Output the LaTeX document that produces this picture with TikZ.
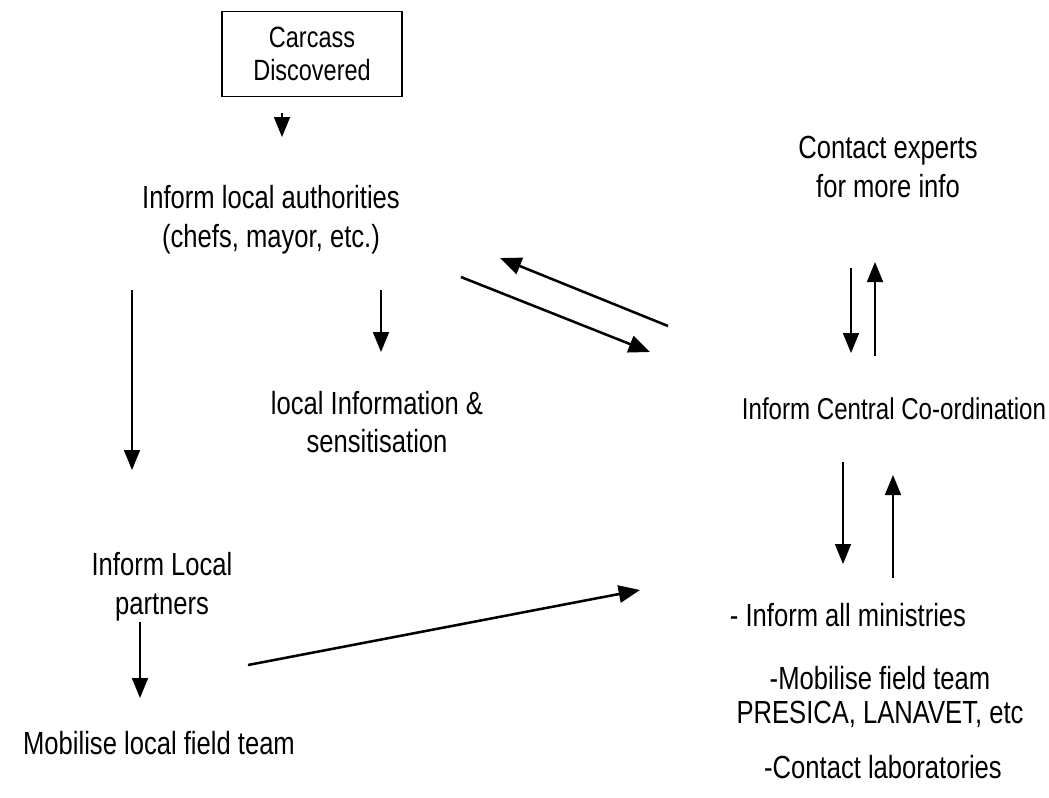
\documentclass[tikz,border=0pt]{standalone}
\usepackage{fontspec}
\setmainfont{Liberation Sans}[FakeStretch=0.8]
\usetikzlibrary{arrows.meta}
\begin{document}
\begin{tikzpicture}[x=0.75pt,y=-0.75pt,
  lbl/.style={align=center,inner sep=0pt,font=\fontsize{24pt}{29pt}\selectfont},
  cbox/.style={lbl,draw,line width=1.1pt,minimum width=135pt,minimum height=64pt,font=\fontsize{22pt}{25pt}\selectfont},
  arr/.style={line width=1.3pt,-{Triangle[length=15pt,width=12pt]}},
  darr/.style={line width=1.9pt,-{Triangle[length=16pt,width=13pt]}}]
\useasboundingbox[fill=white] (0,0) rectangle (1049,797);
% nodes
\node[cbox] (carcass) at (312,54) {Carcass\\Discovered};
\node[lbl] (auth) at (271,220) {Inform local authorities\\(chefs, mayor, etc.)};
\node[lbl] (sens) at (377,422) {local Information \&\\sensitisation};
\node[lbl] (partners) at (162,587) {Inform Local\\partners};
\node[lbl] (mobloc) at (159,743) {Mobilise local field team};
\node[lbl] (experts) at (888,167) {Contact experts\\for more info};
\node[lbl,font=\fontsize{22.6pt}{29pt}\selectfont] (central) at (894,409) {Inform Central Co-ordination};
\node[lbl] (ministries) at (848,615) {- Inform all ministries};
\node[lbl,font=\fontsize{24pt}{26pt}\selectfont] (mobfield) at (880,697) {-Mobilise field team\\PRESICA, LANAVET, etc};
\node[lbl] (labs) at (883,767) {-Contact laboratories};
% connector end points
\coordinate (a1s) at (282,113); \coordinate (a1e) at (282,137);
\coordinate (a2s) at (132,290); \coordinate (a2e) at (132,470);
\coordinate (a3s) at (381,290); \coordinate (a3e) at (381,352);
\coordinate (a4s) at (461,277); \coordinate (a4e) at (650,352);
\coordinate (a5s) at (668,326); \coordinate (a5e) at (500,258);
\coordinate (a6s) at (851,268); \coordinate (a6e) at (851,353);
\coordinate (a7s) at (875,356); \coordinate (a7e) at (875,262);
\coordinate (a8s) at (843,462); \coordinate (a8e) at (843,564);
\coordinate (a9s) at (893,578); \coordinate (a9e) at (893,475);
\coordinate (a10s) at (140,622); \coordinate (a10e) at (140,698);
\coordinate (a11s) at (248,665); \coordinate (a11e) at (640,590);
% connectors
\draw[arr] (a1s) -- (a1e);
\draw[arr] (a2s) -- (a2e);
\draw[arr] (a3s) -- (a3e);
\draw[darr] (a4s) -- (a4e);
\draw[darr] (a5s) -- (a5e);
\draw[arr] (a6s) -- (a6e);
\draw[arr] (a7s) -- (a7e);
\draw[arr] (a8s) -- (a8e);
\draw[arr] (a9s) -- (a9e);
\draw[arr] (a10s) -- (a10e);
\draw[darr] (a11s) -- (a11e);
\end{tikzpicture}
\end{document}
